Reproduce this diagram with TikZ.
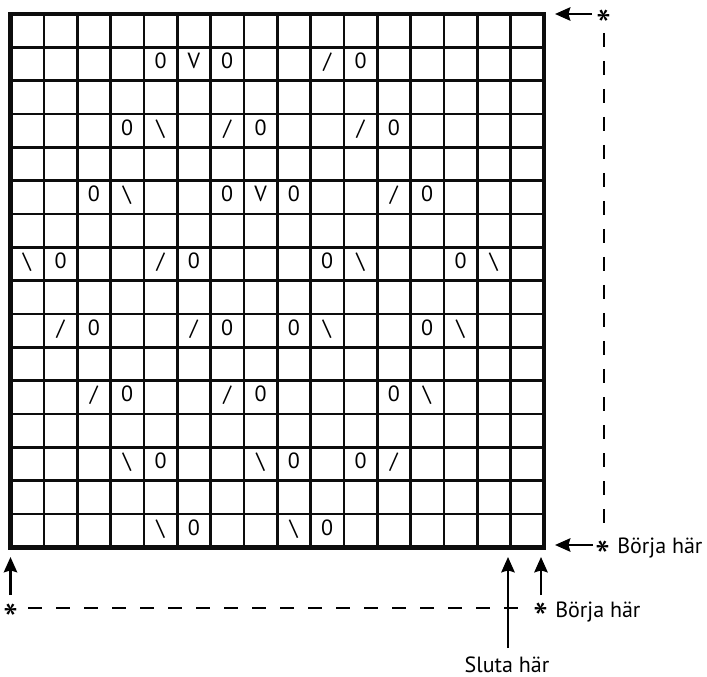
\documentclass[tikz,border=0pt]{standalone}
\usepackage{fontspec}
\setmainfont{PT Sans}
\usetikzlibrary{arrows.meta}
\newcommand\fsl{/}
\begin{document}
\begin{tikzpicture}[x=0.75pt,y=-0.75pt,
  gridline/.style={line width=2pt,color=black!95},
  border/.style={line width=3.4pt,color=black!95},
  cell/.style={inner sep=0pt,font=\fontsize{16.5}{19}\selectfont,text height=0.7em,text depth=0pt},
  arr/.style={line width=2pt,-{Stealth[length=11.5pt,width=10pt,inset=1.5pt]}},
  dashline/.style={line width=1.7pt,dash pattern=on 10.5pt off 10.5pt},
  starmark/.style={inner sep=0pt,anchor=north,font=\fontsize{32}{34}\selectfont},
  lbl/.style={inner sep=0pt,font=\fontsize{16.5}{19}\selectfont}]
\useasboundingbox (0,0) rectangle (707,677);
% grid
\foreach \i in {1,...,15}{
  \draw[gridline] ({10.5+\i*33.333},14) -- ({10.5+\i*33.333},547.3);
  \draw[gridline] (10.5,{14+\i*33.333}) -- (543.8,{14+\i*33.333});
}
\draw[border] (10.5,14) rectangle (543.8,547.3);
% cell symbols: row/col/text
\foreach \r/\c/\t in {
  1/4/0,1/5/V,1/6/0,1/9/\fsl,1/10/0,
  3/3/0,3/4/\textbackslash,3/6/\fsl,3/7/0,3/10/\fsl,3/11/0,
  5/2/0,5/3/\textbackslash,5/6/0,5/7/V,5/8/0,5/11/\fsl,5/12/0,
  7/0/\textbackslash,7/1/0,7/4/\fsl,7/5/0,7/9/0,7/10/\textbackslash,7/13/0,7/14/\textbackslash,
  9/1/\fsl,9/2/0,9/5/\fsl,9/6/0,9/8/0,9/9/\textbackslash,9/12/0,9/13/\textbackslash,
  11/2/\fsl,11/3/0,11/6/\fsl,11/7/0,11/11/0,11/12/\textbackslash,
  13/3/\textbackslash,13/4/0,13/7/\textbackslash,13/8/0,13/10/0,13/11/\fsl,
  15/4/\textbackslash,15/5/0,15/8/\textbackslash,15/9/0}{
  \node[cell] (n-\r-\c) at ({10.5+(\c+0.5)*33.333},{14+(\r+0.5)*33.333}) {\t};
}
% top right marker
\node[starmark] (s1) at (604,10) {*};
\coordinate (a1t) at (592,14);
\coordinate (a1h) at (555,14);
\draw[arr] (a1t) -- (a1h);
\coordinate (d1a) at (604,33);
\coordinate (d1b) at (604,532);
\draw[dashline] (d1a) -- (d1b);
% right bottom marker
\node[starmark] (s2) at (603,540.5) {*};
\node[lbl,anchor=base west] (b1) at (617,553) {Börja här};
\coordinate (a2t) at (593,545);
\coordinate (a2h) at (555,545);
\draw[arr] (a2t) -- (a2h);
% bottom left marker
\node[starmark] (s3) at (10.5,603.5) {*};
\coordinate (a3t) at (10.5,595);
\coordinate (a3h) at (10.5,557);
\draw[arr] (a3t) -- (a3h);
\coordinate (d2a) at (28,608);
\coordinate (d2b) at (522,608);
\draw[dashline] (d2a) -- (d2b);
% second start
\node[starmark] (s4) at (541,602.5) {*};
\node[lbl,anchor=base west] (b2) at (555,617) {Börja här};
\coordinate (a5t) at (541,595);
\coordinate (a5h) at (541,557);
\draw[arr] (a5t) -- (a5h);
% end
\coordinate (a4t) at (508,648);
\coordinate (a4h) at (508,557);
\draw[arr] (a4t) -- (a4h);
\node[lbl,anchor=base] (sl) at (507,672) {Sluta här};
\end{tikzpicture}
\end{document}
